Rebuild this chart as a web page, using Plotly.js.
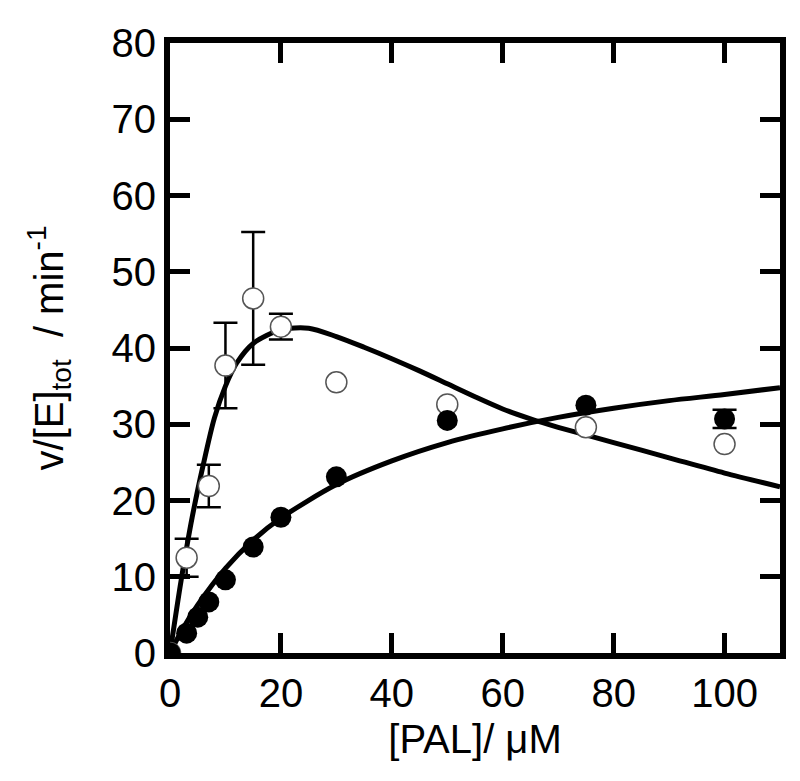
<!DOCTYPE html>
<html>
<head>
<meta charset="utf-8">
<script src="https://cdn.plot.ly/plotly-3.0.1.min.js"></script>
<style>html,body{margin:0;padding:0;background:#fff;}#chart{width:800px;height:781px;}</style>
</head>
<body>
<div id="chart"></div>
<script>
// Measured data: filled circles
const filledX = [0, 3, 5, 7, 10, 15, 20, 30, 50, 75, 100];
const filledY = [0, 2.6, 4.7, 6.7, 9.6, 13.9, 17.8, 23.1, 30.5, 32.5, 30.7];

// Filled points that carry a visible error bar
const filledErrX = [100];
const filledErrY = [30.7];
const filledErr = [1.2];

// Measured data: open circles
const openX = [0, 3, 7, 10, 15, 20, 30, 50, 75, 100];
const openY = [0, 12.5, 21.9, 37.7, 46.5, 42.8, 35.5, 32.6, 29.6, 27.4];

// Open points that carry a visible error bar
const openErrX = [3, 7, 10, 15, 20];
const openErrY = [12.5, 21.9, 37.7, 46.5, 42.8];
const openErr = [2.5, 2.8, 5.6, 8.7, 1.7];

// Fitted curves
const fitFilledX = [0, 2, 5, 10, 15, 20, 30, 40, 50, 60, 70, 80, 90, 100, 110];
const fitFilledY = [0, 2.8, 6.3, 11.1, 14.8, 17.7, 22.1, 25.2, 27.6, 29.4, 30.9, 32.1, 33.1, 33.9, 34.8];

const fitOpenX = [0, 2, 4, 6, 8, 10, 12, 15, 20, 25, 30, 35, 40, 45, 50, 55, 60, 65, 70, 80, 90, 100, 110];
const fitOpenY = [0, 9.5, 17.8, 24.7, 30.8, 35.0, 38.0, 40.6, 42.4, 42.6, 41.5, 40.1, 38.6, 37.0, 35.3, 33.6, 32.0, 30.7, 29.6, 27.6, 25.6, 23.6, 21.8];

const xTicks = [0, 20, 40, 60, 80, 100];
const yTicks = [0, 10, 20, 30, 40, 50, 60, 70, 80];

const font = 'Liberation Sans, Arial, sans-serif';

const errStyle = {type: 'data', visible: true, color: '#000', thickness: 2.5, width: 12};

const traces = [
  {x: fitFilledX, y: fitFilledY, mode: 'lines', line: {color: '#000', width: 5, shape: 'spline', smoothing: 0.8}, hoverinfo: 'skip'},
  {x: fitOpenX, y: fitOpenY, mode: 'lines', line: {color: '#000', width: 5, shape: 'spline', smoothing: 0.8}, hoverinfo: 'skip'},
  {x: openErrX, y: openErrY, mode: 'markers', marker: {size: 1, color: 'rgba(0,0,0,0)'},
   error_y: Object.assign({array: openErr}, errStyle)},
  {x: filledErrX, y: filledErrY, mode: 'markers', marker: {size: 1, color: 'rgba(0,0,0,0)'},
   error_y: Object.assign({array: filledErr}, errStyle)},
  {x: openX, y: openY, mode: 'markers',
   marker: {size: 21, color: '#fff', line: {color: '#555', width: 1.5}}},
  {x: filledX, y: filledY, mode: 'markers',
   marker: {size: 21, color: '#000', line: {color: '#000', width: 0}}}
];

const axisCommon = {
  showgrid: false, zeroline: false, showline: true, linecolor: '#000', linewidth: 6,
  mirror: 'ticks', ticks: 'inside', ticklen: 20, tickwidth: 5, tickcolor: '#000',
  tickfont: {family: font, size: 40, color: '#000'}
};

const layout = {
  width: 800, height: 781,
  margin: {l: 170, r: 20, t: 43, b: 128},
  paper_bgcolor: '#fff', plot_bgcolor: '#fff',
  showlegend: false,
  xaxis: Object.assign({}, axisCommon, {
    range: [0, 110], tickvals: xTicks, ticktext: xTicks.map(String),
    title: {text: '[PAL]/ μM', font: {family: font, size: 40, color: '#000'}, standoff: 13}
  }),
  yaxis: Object.assign({}, axisCommon, {
    range: [0, 80], tickvals: yTicks, ticktext: yTicks.map(String),
    title: {text: 'v/[E]<sub>tot</sub>  / min<sup>-1</sup>', font: {family: font, size: 40, color: '#000'}, standoff: 38}
  })
};

Plotly.newPlot('chart', traces, layout, {displayModeBar: false, staticPlot: true});
</script>
</body>
</html>
